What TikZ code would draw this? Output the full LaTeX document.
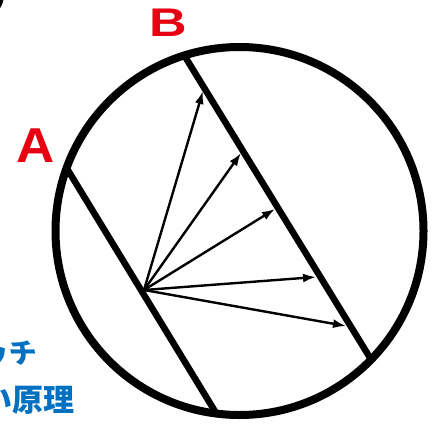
\documentclass[tikz,border=0pt]{standalone}
\usepackage{fontspec}
\setmainfont{Liberation Sans}
\newfontfamily\cjk{Noto Sans CJK JP}
\usetikzlibrary{arrows.meta}
\definecolor{lblred}{RGB}{230,0,18}
\definecolor{lblblue}{RGB}{0,112,192}
\begin{document}
\begin{tikzpicture}[x=1pt,y=-1pt,
  ring/.style={line width=8pt},
  wall/.style={line width=6.5pt},
  ray/.style={line width=2.4pt,-{Latex[length=13pt,width=9pt]}},
  letter/.style={text=lblred,font=\bfseries,inner sep=0pt},
  jp/.style={text=lblblue,font=\cjk\bfseries,inner sep=0pt,anchor=east}]
\useasboundingbox (0,0) rectangle (443,423);
\clip (0,0) rectangle (443,423);
% corner fragment
\fill (-20,-5) circle (24);
% circle
\coordinate (C) at (239.5,231);
\draw[ring] (C) circle (184);
% walls
\coordinate (A1) at (66,167);
\coordinate (A2) at (216,413);
\coordinate (B1) at (184,55);
\coordinate (B2) at (372,361);
\draw[wall] (A1) -- (A2);
\draw[wall] (B1) -- (B2);
% rays
\coordinate (O) at (144,290);
\coordinate (T1) at (203,91);
\coordinate (T2) at (241,153);
\coordinate (T3) at (275,209);
\coordinate (T4) at (316,277);
\coordinate (T5) at (346,326);
\foreach \t in {T1,T2,T3,T4,T5} \draw[ray] (O) -- (\t);
% labels
\node[letter,font=\bfseries\fontsize{49}{49}\selectfont,xscale=1.08] (la) at (36,146) {A};
\node[letter,font=\bfseries\fontsize{40}{40}\selectfont,xscale=1.3] (lb) at (168.5,22.5) {B};
\node[jp,font=\cjk\bfseries\fontsize{28}{28}\selectfont,xslant=-0.2] (j1) at (38,354) {ッチ};
\node[jp,font=\cjk\bfseries\fontsize{31}{31}\selectfont] (j2) at (75,400) {い原理};
\end{tikzpicture}
\end{document}
